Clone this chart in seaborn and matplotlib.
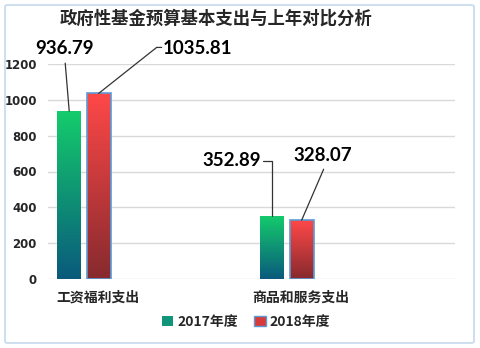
import numpy as np
import pandas as pd
import matplotlib
matplotlib.use("Agg")
import matplotlib.pyplot as plt
import matplotlib.transforms as mtransforms
from matplotlib.patches import FancyBboxPatch, Patch
from matplotlib.colors import LinearSegmentedColormap
import seaborn as sns

# ---- data ----
categories = ["工资福利支出", "商品和服务支出"]
series_names = ["2017年度", "2018年度"]
values_2017 = [936.79, 352.89]
values_2018 = [1035.81, 328.07]
title = "政府性基金预算基本支出与上年对比分析"
yticks = [0, 200, 400, 600, 800, 1000, 1200]

df = pd.DataFrame({
    "cat": categories * 2,
    "year": [series_names[0]] * 2 + [series_names[1]] * 2,
    "val": values_2017 + values_2018,
})

sns.set_theme(style="white")
plt.rcParams['font.family'] = ['Noto Sans CJK SC', 'DejaVu Sans']

fig = plt.figure(figsize=(4.8, 3.48), dpi=100)
fig.patch.set_facecolor("white")
W, H = 480, 348

# border
border = FancyBboxPatch((5 / W, 5 / H), 469 / W, 338 / H,
                        boxstyle="round,pad=0,rounding_size=0.005",
                        transform=fig.transFigure, facecolor="none",
                        edgecolor="#c5d9ec", linewidth=1.2, zorder=-1)
fig.patches.append(border)

ax = fig.add_axes([48 / W, 1 - 279 / H, (455 - 48) / W, (279 - 64) / H])
ax.set_facecolor("none")

sns.barplot(data=df, x="cat", y="val", hue="year", order=categories,
            hue_order=series_names, width=0.29, gap=0.186, ax=ax,
            palette=["#12b46a", "#d83a3a"], legend=False, errorbar=None,
            saturation=1)

ax.set_ylim(0, 1200)
ax.set_xlim(-0.177, 1.828)
ax.set_yticks(yticks)
ax.set_yticklabels([str(t) for t in yticks], fontsize=8.5, fontweight="bold",
                   family=['DejaVu Sans'])
ax.yaxis.grid(True, color="#d9d9d9", linewidth=1)
ax.set_axisbelow(True)
for s in ["top", "right", "left", "bottom"]:
    ax.spines[s].set_visible(False)
ax.tick_params(axis="both", length=0, pad=6)
ax.tick_params(axis="y", pad=8)
ax.set_xlabel("")
ax.set_ylabel("")
ax.set_xticks([0, 1])
ax.set_xticklabels(categories, fontsize=10, fontweight="black")
offset = mtransforms.ScaledTranslation(14 / 100, -3 / 100, fig.dpi_scale_trans)
for lbl in ax.get_xticklabels():
    lbl.set_transform(lbl.get_transform() + offset)

# gradients
cmaps = [
    LinearSegmentedColormap.from_list("g", ["#0a5a7c", "#14cc6c"]),
    LinearSegmentedColormap.from_list("r", ["#862a2e", "#ff4848"]),
]
grad = np.linspace(0, 1, 256).reshape(-1, 1)
patches = ax.patches[:4]
bar_info = []
for i, p in enumerate(patches):
    hue_idx = 0 if i < 2 else 1
    x0, y0 = p.get_x(), p.get_y()
    w, h = p.get_width(), p.get_height()
    im = ax.imshow(grad, extent=[x0, x0 + w, 0, h], origin="lower",
                   cmap=cmaps[hue_idx], aspect="auto", zorder=2)
    im.set_clip_path(p)
    p.set_facecolor("none")
    if hue_idx == 1:
        p.set_edgecolor("#5b9bd5")
        p.set_linewidth(1.2)
    else:
        p.set_edgecolor("none")
    p.set_zorder(3)
    bar_info.append((x0 + w / 2, h))

ax.set_ylim(0, 1200)
ax.set_xlim(-0.177, 1.828)

lab_font = dict(fontsize=13.5, fontweight="bold", family=["Lato", "DejaVu Sans"],
                color="black")
line_kw = dict(color="#333333", linewidth=0.9)

def leader(xy, pts):
    disp = ax.transData.transform(xy)
    arr = np.array([[disp[0] + dx, disp[1] + dy] for dx, dy in pts])
    data = ax.transData.inverted().transform(arr)
    ax.plot(data[:, 0], data[:, 1], clip_on=False, zorder=5, **line_kw)

vals = [values_2017[0], values_2017[1], values_2018[0], values_2018[1]]
specs = [
    ([(0, 0), (-4, 48)], (-5, 63), "center"),
    ([(0, 0), (0, 55), (-9, 55)], (-11, 55), "right"),
    ([(0, 0), (58, 46), (63, 46)], (64, 45), "left"),
    ([(0, 0), (22, 51)], (21, 65), "center"),
]
for (xc, h), v, (pts, toff, ha) in zip(bar_info, vals, specs):
    leader((xc, h), pts)
    ax.annotate(f"{v:.2f}", xy=(xc, h), xytext=toff, textcoords="offset pixels",
                ha=ha, va="center", annotation_clip=False, zorder=6, **lab_font)

fig.text(216 / W, 1 - 19 / H, title, ha="center", va="center",
         fontsize=12.5, fontweight="black")

handles = [Patch(facecolor="#11957a", edgecolor="none"),
           Patch(facecolor="#d83a3a", edgecolor="#5b9bd5", linewidth=1)]
fig.legend(handles, series_names, loc="center", bbox_to_anchor=(246 / W, 1 - 322 / H),
           ncol=2, frameon=False, prop={"weight": "black", "size": 10},
           handlelength=0.8, handleheight=0.8, handletextpad=0.3,
           columnspacing=1.2)

fig.savefig("out.png", dpi=100, facecolor="white")
